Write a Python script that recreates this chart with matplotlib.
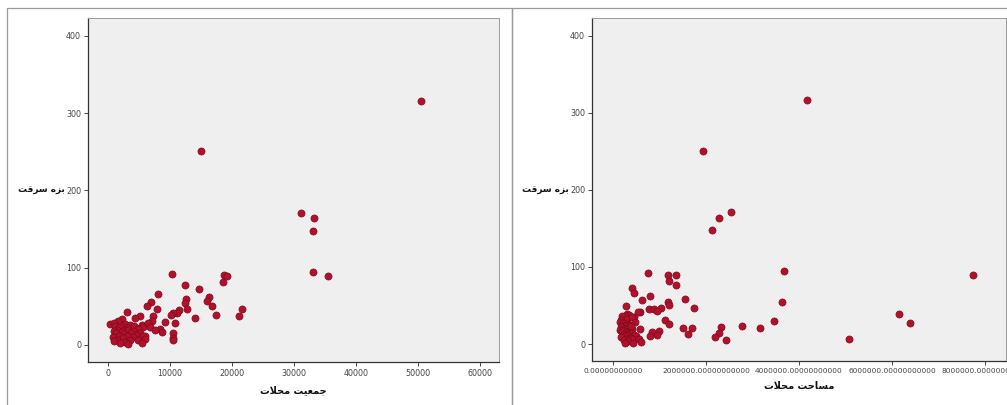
import matplotlib
matplotlib.use("Agg")
import matplotlib.pyplot as plt
from matplotlib.patches import Rectangle
from matplotlib.ticker import FuncFormatter

# ---- data: (crime count, neighbourhood population, neighbourhood area) ----
crime = [316, 251, 171, 164, 148, 95, 89,
         92, 90, 89, 82, 77, 73, 66, 62, 59, 57, 54, 55, 51, 50, 47, 47, 46, 45,
         43, 41, 41, 39, 39, 38, 37, 37, 35, 31, 30, 29, 27, 26, 23, 21, 21, 21,
         22, 17, 16, 14, 13, 12, 10, 9, 6, 5,
         33, 31, 28, 27, 26, 25, 24, 23, 22, 21, 20, 20, 19, 18, 18, 17, 16, 15,
         15, 14, 13, 12, 12, 11, 10, 10, 9, 8, 7, 7, 6, 5, 4, 3, 2, 1, 35, 28,
         23, 19]
population = [50480, 15000, 31130, 33170, 33120, 33120, 35540,
              10370, 18760, 19140, 18600, 12420, 14630, 8110, 16340, 12580, 16020,
              12470, 6940, 16700, 6340, 21560, 12800, 7960, 11450,
              3010, 11080, 10430, 17420, 10110, 21180, 7310, 5160, 14030, 7050,
              9190, 10810, 320, 5430, 5700, 8390, 2500, 4000,
              4500, 8660, 10430, 3500, 2000, 6000, 3000, 10430, 10430, 3000,
              2300, 1670, 900, 2800, 3600, 4200, 1200, 2000, 3100, 4800, 1500,
              2600, 3300, 900, 4000, 2200, 5200, 1300, 3700, 2500, 4500, 1800,
              5600, 3000, 800, 4100, 2400, 6000, 1400, 3500, 4900, 1000, 2700,
              5400, 1900, 3200, 4400, 6400, 6800, 7500]
area = [4.17e6, 1.94e6, 2.53e6, 2.27e6, 2.12e6, 3.68e6, 7.74e6,
        0.76e6, 1.19e6, 1.35e6, 1.20e6, 1.36e6, 0.40e6, 0.45e6, 0.80e6, 1.55e6,
        0.63e6, 3.63e6, 1.19e6, 1.20e6, 0.29e6, 1.74e6, 1.03e6, 0.77e6, 0.88e6,
        0.94e6, 0.58e6, 0.53e6, 6.16e6, 0.30e6, 0.35e6, 0.25e6, 0.20e6, 0.45e6,
        1.13e6, 3.46e6, 0.30e6, 6.39e6, 1.21e6, 2.78e6, 3.17e6, 1.50e6, 1.71e6,
        2.33e6, 1.00e6, 0.83e6, 2.28e6, 1.61e6, 0.94e6, 0.80e6, 2.20e6, 5.07e6,
        2.42e6,
        0.28e6, 0.18e6, 0.15e6, 0.22e6, 0.30e6, 0.35e6, 0.20e6, 0.26e6, 0.18e6,
        0.32e6, 0.24e6, 0.40e6, 0.28e6, 0.16e6, 0.22e6, 0.34e6, 0.30e6, 0.26e6,
        0.19e6, 0.38e6, 0.24e6, 0.31e6, 0.45e6, 0.21e6, 0.27e6, 0.50e6, 0.17e6,
        0.36e6, 0.42e6, 0.29e6, 0.55e6, 0.23e6, 0.33e6, 0.60e6, 0.25e6, 0.44e6,
        0.40e6, 0.48e6, 0.38e6, 0.58e6]

y_ticks = [0, 100, 200, 300, 400]
pop_ticks = [0, 10000, 20000, 30000, 40000, 50000, 60000]
area_ticks = [0, 2000000, 4000000, 6000000, 8000000]

# Persian labels (Arabic presentation forms, visual order)
y_label = "\uFE96\uFED7\uFEAE\uFEB3 \uFEE9\uFEB0\uFE91"              # بزه سرقت
x_label_pop = "\uFE95\uFEFC\uFEA4\uFEE3 \uFE96\uFEF4\uFECC\uFEE4\uFE9F"  # جمعیت محلات
x_label_area = "\uFE95\uFEFC\uFEA4\uFEE3 \uFE96\uFEA3\uFE8E\uFEB4\uFEE3"  # مساحت محلات

plt.rcParams['font.family'] = ['DejaVu Sans']

W, H = 1007, 405
fig = plt.figure(figsize=(W / 100, H / 100), dpi=100)
fig.patch.set_facecolor('white')

def fx(px):
    return px / W

def fy(py):
    return 1 - py / H

# panel frames
for x0, x1 in [(7, 512), (512, 1012)]:
    fig.add_artist(Rectangle((fx(x0), fy(410)), fx(x1 - x0), (410 - 8) / H,
                             transform=fig.transFigure, fill=False,
                             edgecolor='#9a9a9a', linewidth=0.9))

face = '#b3102c'
edge = '#7a0a1c'

def setup(ax, xs, xlim, xticks, fmt, xlabel, xsize):
    ax.set_facecolor('#efefef')
    ax.scatter(xs, crime, s=26, c=face, edgecolors=edge, linewidths=0.5, zorder=3)
    ax.set_xlim(*xlim)
    ax.set_ylim(-22, 423)
    ax.set_yticks(y_ticks)
    ax.set_xticks(xticks)
    ax.xaxis.set_major_formatter(FuncFormatter(fmt))
    ax.tick_params(axis='both', direction='out', length=3, width=0.7,
                   labelsize=5.8, colors='#444444', pad=2)
    ax.tick_params(axis='x', labelsize=xsize)
    for s in ['left', 'bottom']:
        ax.spines[s].set_color('#333333')
        ax.spines[s].set_linewidth(0.9)
    for s in ['top', 'right']:
        ax.spines[s].set_color('#9a9a9a')
        ax.spines[s].set_linewidth(0.7)
    ax.set_xlabel(xlabel, fontsize=7, fontweight='bold', labelpad=5, color='#111111')

ax1 = fig.add_axes([fx(88), fy(362), fx(499 - 88), (362 - 18) / H])
setup(ax1, population, (-3230, 63060), pop_ticks,
      lambda v, p: f"{int(v)}", x_label_pop, 5.8)

ax2 = fig.add_axes([fx(592), fy(361), fx(1006 - 592), (361 - 18) / H])
setup(ax2, area, (-0.45e6, 8.45e6), area_ticks,
      lambda v, p: f"{v:.11f}", x_label_area, 5.3)

fig.text(fx(65), fy(190), y_label, fontsize=6.5, fontweight='bold',
         ha='right', va='center', color='#111111')
fig.text(fx(569), fy(190), y_label, fontsize=6.5, fontweight='bold',
         ha='right', va='center', color='#111111')

fig.savefig('out.png', dpi=100, facecolor='white')
